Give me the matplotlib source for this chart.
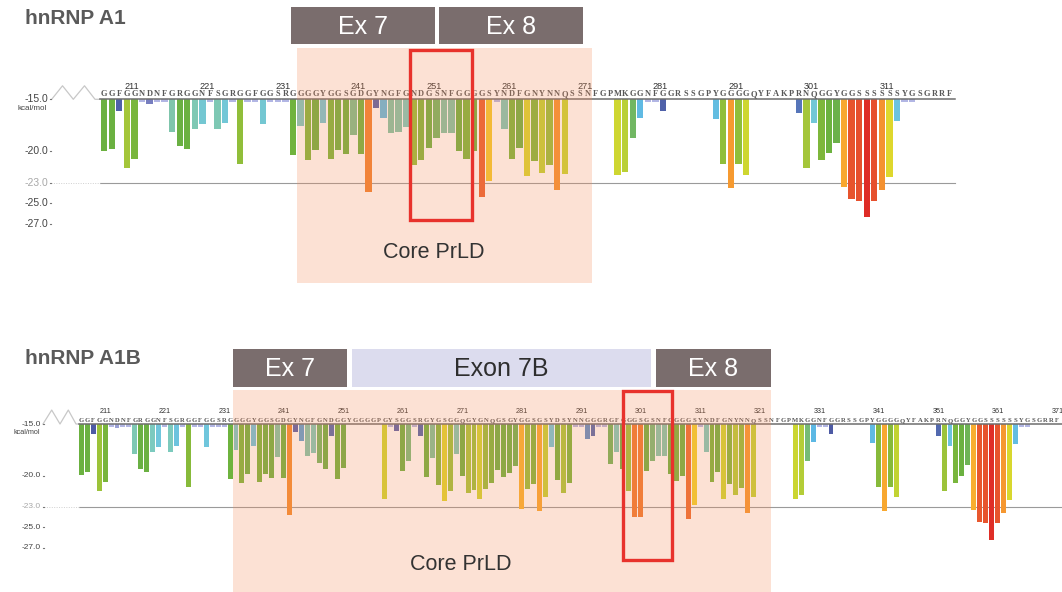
import numpy as np
import matplotlib
matplotlib.use("Agg")
import matplotlib.pyplot as plt
from matplotlib import font_manager
from matplotlib.colors import LinearSegmentedColormap, Normalize
from matplotlib.patches import Rectangle

T = -15.25      # bars that only just pass the -15 cut-off
N = np.nan      # no bar drawn

# hnRNP A1, residues 208-320
a1_start = 208
a1_seq = ("GGFGGNDNFGRGGNFSGRGGFGGSRGGGGYGGSGDGYNGFGNDGSNFGGGGSYNDFGNYNN"
          "QSSNFGPMKGGNFGGRSSGPYGGGGQYFAKPRNQGGYGGSSSSSSYGSGRRF")
a1_energy = [
    -20.0, -19.75, -16.1, -21.6, -20.7, T, -15.5, T, T, -18.1,
    -19.5, -19.75, -17.9, -17.4, T, -17.9, -17.3, T, -21.25, T,
    T, -17.4, T, T, T, -20.4, -17.6, -20.8, -19.9, -17.3,
    -20.7, -19.9, -20.3, -18.4, -20.3, -23.95, -15.8, -16.8, -18.2, -18.1,
    -17.7, -21.3, -20.8, -19.65, -18.75, -18.2, -18.2, -20.0, -20.7, -20.0,
    -24.35, -22.9, T, -17.85, -20.7, -19.7, -22.4, -20.9, -22.05, -21.3,
    -23.7, -22.2, N, N, N, N, N, N, -22.3, -21.95,
    -18.75, -16.8, T, T, -16.1, N, N, N, N, N,
    N, -16.9, -21.25, -23.55, -21.25, -22.3, N, N, N, N,
    N, N, -16.3, -21.6, -17.3, -20.8, -20.2, -19.2, -23.4, -24.6,
    -24.75, -26.3, -24.75, -23.7, -22.5, -17.1, T, T, N, N,
    N, N, N,
]

# hnRNP A1B, residues 208-372 (exon 7B inserted)
a1b_start = 208
a1b_seq = ("GGFGGNDNFGRGGNFSGRGGFGGSRGGGGYGGSGDGYNGFGNDG"
           "GYGGGGPGYSGGSRGYGSGGQGYGNQGSGYGGSGSYDSYNNGGGRGFGGGSG"
           "SNFGGGGSYNDFGNYNNQSSNFGPMKGGNFGGRSSGPYGGGGQYFAKPRNQGGYGGSSSSSSYGSGRRF")
a1b_energy = [
    -19.95, -19.6, -15.95, -21.5, -20.65, T, -15.4, T, T, -17.9,
    -19.35, -19.6, -17.7, -17.2, T, -17.75, -17.1, T, -21.1, T,
    T, -17.2, T, T, T, -20.35, -17.5, -20.7, -19.8, -17.1,
    -20.6, -19.8, -20.2, -18.2, -20.2, -23.8, -15.75, -16.6, -18.1, -17.8,
    -18.75, -19.35, -16.2, -20.35, -19.3, N, N, N, N, N,
    N, -22.3, T, -15.65, -19.55, -18.55, T, -16.15, -20.15, -18.3,
    -20.9, -22.5, -21.45, -17.9, -20.0, -21.65, -21.4, -22.3, -21.3, -20.7,
    -19.45, -20.1, -19.7, -19.1, -23.25, -21.3, -20.8, -23.4, -22.1, -17.2,
    -20.4, -21.7, -20.7, T, T, -16.5, -16.2, T, T, -18.9,
    -17.75, -19.4, -21.45, -24.0, -24.0, -19.55, -18.6, -18.05, -18.05, -19.85,
    -20.5, -20.0, -24.2, -22.8, T, -17.75, -20.65, -19.6, -22.3, -20.85,
    -21.9, -21.2, -23.6, -22.1, N, N, N, N, N, N,
    -22.25, -21.9, -18.6, -16.7, T, T, -16.0, N, N, N,
    N, N, N, -16.8, -21.1, -23.4, -21.1, -22.1, N, N,
    N, N, N, N, -16.2, -21.5, -17.1, -20.7, -20.0, -19.0,
    -23.3, -24.45, -24.6, -26.2, -24.6, -23.6, -22.4, -16.9, T, T,
    N, N, N, N, N,
]

y_ticks = [-15.0, -20.0, -23.0, -25.0, -27.0]
threshold = -23.0

# energy -> colour, red (strong) through green to blue (weak)
stops = [(-26.4, '#de2a26'), (-25.2, '#e4422c'), (-24.4, '#e85a2e'),
         (-23.9, '#f08430'), (-23.5, '#f8a030'), (-23.1, '#f8c030'),
         (-22.7, '#ecd82a'), (-22.2, '#c8d632'), (-21.7, '#a8c83a'),
         (-21.1, '#88ba3a'), (-20.3, '#6cb23e'), (-19.3, '#6ab044'),
         (-18.7, '#72b866'), (-18.2, '#80c4a6'), (-17.7, '#7ccabe'),
         (-17.2, '#70c6dc'), (-16.7, '#5cb8e4'), (-16.4, '#5a7ec0'),
         (-16.0, '#4c5aa4'), (-15.6, '#5a62ac'), (-15.3, '#aab0e0'),
         (-15.0, '#c8c8ee')]
norm = Normalize(stops[0][0], stops[-1][0])
cmap = LinearSegmentedColormap.from_list(
    'zipper', [(float(norm(v)), c) for v, c in stops])

W, H = 1062, 592
names = {f.name for f in font_manager.fontManager.ttflist}
narrow = 'Liberation Sans Narrow' if 'Liberation Sans Narrow' in names else 'Liberation Sans'
SANS = 'Liberation Sans'
SERIF = 'Liberation Serif'

fig = plt.figure(figsize=(W / 100, H / 100), dpi=100)


def panel(rect, start, seq, energy, first_px, step_px, base_px, kcal_px,
          top_px, span_px, line_px, zig_px, zig_top, tick_x, sizes, num_off):
    """One sequence track; the axes spans the full figure width."""
    ax = fig.add_axes(rect)
    ax.axis('off')
    h_px = rect[3] * H
    ax.set_xlim(start - first_px / step_px, start + (W - first_px) / step_px)
    base_local = base_px - top_px
    ax.set_ylim(-15 - (h_px - base_local) / kcal_px, -15 + base_local / kcal_px)

    e = np.array(energy, dtype=float)
    res = np.arange(start, start + len(e))
    ok = ~np.isnan(e)
    ax.bar(res[ok], e[ok] + 15, bottom=-15, width=0.84,
           color=cmap(norm(e[ok])), linewidth=0, zorder=2)

    x0, x1 = line_px[0] / W, line_px[1] / W
    ax.axhline(-15, x0, x1, color='#6e6e6e', lw=1.1, zorder=3)
    ax.axhline(threshold, x0, x1, color='#9a9a9a', lw=0.8, zorder=1)
    ax.axhline(threshold, (tick_x + 3) / W, x0, color='#d0d0d0', lw=0.7,
               ls=(0, (1, 1.5)), zorder=1)

    ytr = ax.get_yaxis_transform()
    zx = [p / W for p in zig_px]
    ax.plot(zx, [-15, zig_top, -15, zig_top, -15, -15], color='#c8c8c8',
            lw=0.9, transform=ytr, clip_on=False)
    for v in y_ticks:
        col = '#a8a8a8' if v == threshold else '#444444'
        ax.text(tick_x / W, v, f'{v:.1f}', transform=ytr, ha='right',
                va='center', fontsize=sizes[0], family=SANS, color=col)
        ax.plot([(tick_x + 1.5) / W, (tick_x + 3) / W], [v, v],
                color='#777777', lw=0.8, transform=ytr)
    ax.text((tick_x - 1) / W, -15 - 9 / kcal_px, 'kcal/mol', transform=ytr,
            ha='right', va='center', fontsize=sizes[1], family=SANS,
            color='#444444')

    for r, ch in zip(res, seq):
        ax.text(r, -14.9, ch, ha='center', va='bottom', fontsize=sizes[2],
                family=SERIF, weight='bold', color='#575757', zorder=3)
    for r in range(start + 3, start + len(seq), 10):
        ax.text(r + num_off, -14.17, str(r), ha='center', va='bottom',
                fontsize=sizes[3], family=SANS, color='#333333', zorder=3)
    return ax


panel([0, 0.5, 1, 0.5], a1_start, a1_seq, a1_energy, 104.2, 7.55, 99.3, 10.4,
      0, None, (100, 955), (51.7, 62.5, 73.3, 84.5, 95, 100), -13.7, 48,
      (7.5, 5.8, 6.0, 6.6), 0.65)
panel([0, 0, 1, 0.5], a1b_start, a1b_seq, a1b_energy, 81.3, 5.95, 424, 10.33,
      296, None, (79, W), (43, 51.7, 60, 68.3, 76, 79), -13.65, 41,
      (6.0, 5.2, 4.8, 5.2), 1.1)

# layout layer: titles, exon bars, core PrLD shading, highlight boxes
ov = fig.add_axes([0, 0, 1, 1])
ov.set_xlim(0, W)
ov.set_ylim(H, 0)
ov.axis('off')
ov.patch.set_alpha(0)
ov.set_zorder(5)

ov.text(25, 19, 'hnRNP A1', fontsize=15, weight='bold', family=SANS,
        color='#5a5a5a', va='center', ha='left')
ov.text(25, 358, 'hnRNP A1B', fontsize=15, weight='bold', family=SANS,
        color='#5a5a5a', va='center', ha='left')

exons = [
    ('Ex 7', 291, 435, 7, 44, '#7a6d6d', 'white'),
    ('Ex 8', 439, 583, 7, 44, '#7a6d6d', 'white'),
    ('Ex 7', 233, 347, 349, 387, '#7a6d6d', 'white'),
    ('Exon 7B', 352, 651, 349, 387, '#dcdcee', '#2e2e2e'),
    ('Ex 8', 656, 771, 349, 387, '#7a6d6d', 'white'),
]
for label, xa, xb, ya, yb, fc, tc in exons:
    ov.add_patch(Rectangle((xa, ya), xb - xa, yb - ya, facecolor=fc,
                           edgecolor='none'))
    ov.text((xa + xb) / 2, (ya + yb) / 2 + 1, label, ha='center', va='center',
            fontsize=18, family=narrow, color=tc)

for xa, xb, ya, yb in [(297, 592, 48, 283), (233, 771, 390, 592)]:
    ov.add_patch(Rectangle((xa, ya), xb - xa, yb - ya, facecolor='#f78b57',
                           alpha=0.25, edgecolor='none'))

for xa, xb, ya, yb in [(410, 472, 50, 220), (623, 672, 391, 560)]:
    ov.add_patch(Rectangle((xa, ya), xb - xa, yb - ya, facecolor='none',
                           edgecolor='#e8322c', lw=2.4))

ov.text(434, 252, 'Core PrLD', fontsize=15.5, family=SANS, color='#333333',
        ha='center', va='center')
ov.text(461, 565, 'Core PrLD', fontsize=15.5, family=SANS, color='#333333',
        ha='center', va='center')

fig.savefig('out.png', dpi=100)
